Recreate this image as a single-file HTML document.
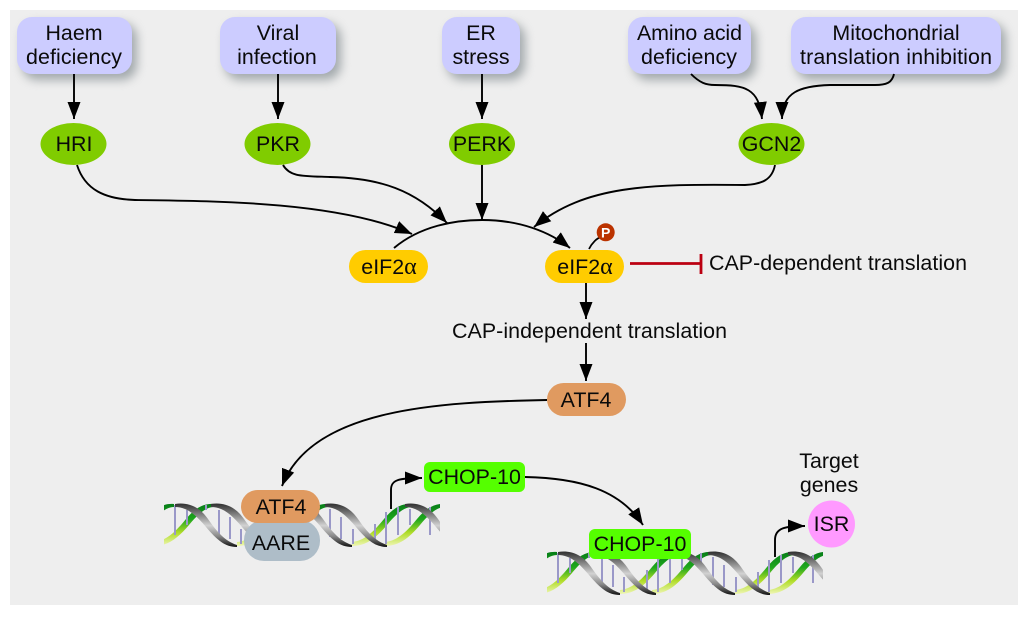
<!DOCTYPE html>
<html><head><meta charset="utf-8"><title>Integrated stress response</title>
<style>html,body{margin:0;padding:0;background:#fff}svg{display:block}text{font-family:"Liberation Sans",sans-serif;font-size:21.4px;fill:#0a0a0a;text-anchor:middle}</style></head>
<body>
<svg width="1024" height="620" viewBox="0 0 1024 620" xmlns="http://www.w3.org/2000/svg">
<defs>
<marker id="a" markerUnits="userSpaceOnUse" markerWidth="19" markerHeight="15" refX="17" refY="7" orient="auto"><path d="M0,0.5L17,7L0,13.5Z" fill="#000"/></marker>
<filter id="s" x="-30%" y="-40%" width="170%" height="190%"><feGaussianBlur stdDeviation="5"/></filter>
<linearGradient id="gr" gradientUnits="userSpaceOnUse" x1="0" y1="552" x2="0" y2="596"><stop offset="0" stop-color="#067d18"/><stop offset=".35" stop-color="#1fa81c"/><stop offset=".65" stop-color="#b0dc28"/><stop offset="1" stop-color="#f8fac8"/></linearGradient>
<linearGradient id="gy" gradientUnits="userSpaceOnUse" x1="0" y1="552" x2="0" y2="595"><stop offset="0" stop-color="#333"/><stop offset=".5" stop-color="#d2d2d2"/><stop offset=".75" stop-color="#888"/><stop offset="1" stop-color="#111"/></linearGradient>
<clipPath id="c"><rect x="547" y="545" width="276" height="55"/></clipPath>
<path id="g" d="M-8,590C5,589 15,578 24,567C33,556 42,551 52,552L52,555C44,555 36,562 27,573C16,586 6,594 -8,594Z" fill="url(#gr)"/>
<path id="y" d="M0,552C12,550 24,554 33,567C42,580 50,589 62,593V595C50,595 42,588 31,575C21,563 12,555 0,555Z" fill="url(#gy)"/>
<g id="dna" clip-path="url(#c)">
<use href="#g" transform="translate(505,0)"/><use href="#g" transform="translate(545,0)"/><use href="#g" transform="translate(628,0)"/><use href="#g" transform="translate(660,0)"/><use href="#g" transform="translate(743,0)"/><use href="#g" transform="translate(776,0)"/>
<path d="M558,553V583M570,558V573M589,553V558M602,558V583M613,565V587M624,577V592M647,570V590M658,558V592M670,558V583M682,558V570M701,553V565M713,557V585M724,565V587M736,577V592M758,572V590M769,560V592M781,555V583M793,557V573M813,555V583" stroke="#9a98c8" stroke-width="2" fill="none"/>
<use href="#y" transform="translate(558,0)"/><use href="#y" transform="translate(594,0)"/><use href="#y" transform="translate(673,0)"/><use href="#y" transform="translate(708,0)"/><use href="#y" transform="translate(788,0)"/>
</g>
</defs>
<rect x="10" y="10" width="1008" height="595" fill="#eeeeee"/>
<g fill="#6f7a80" filter="url(#s)" opacity=".6">
<rect x="22" y="23" width="115" height="57" rx="15"/><rect x="225" y="23" width="116" height="57" rx="15"/><rect x="447" y="23" width="78" height="57" rx="15"/><rect x="633" y="23" width="123" height="57" rx="15"/><rect x="796" y="23" width="210" height="57" rx="15"/>
</g>
<g fill="#ccccff">
<rect x="17" y="17" width="115" height="57" rx="15"/><rect x="220" y="17" width="116" height="57" rx="15"/><rect x="442" y="17" width="78" height="57" rx="15"/><rect x="628" y="17" width="123" height="57" rx="15"/><rect x="791" y="17" width="210" height="57" rx="15"/>
</g>
<use href="#dna" transform="translate(-383,-48)"/>
<use href="#dna"/>
<g fill="none" stroke="#000" stroke-width="1.9">
<path d="M74,74V119" marker-end="url(#a)"/>
<path d="M278,74V119" marker-end="url(#a)"/>
<path d="M482,74V119" marker-end="url(#a)"/>
<path d="M691,74C700,83 706,85 715,85C745,85 759,88 762,119" marker-end="url(#a)"/>
<path d="M894,74C892,83 886,85 875,85L830,85C800,86 782,92 782,119" marker-end="url(#a)"/>
<path d="M77,165C85,190 105,199 135,200C220,201 340,202 412,234" marker-end="url(#a)"/>
<path d="M283,165C290,177 302,176 330,177C380,178 415,190 447,223" marker-end="url(#a)"/>
<path d="M482,165V220" marker-end="url(#a)"/>
<path d="M775,165C772,180 762,184 745,185C650,184 585,185 534,227" marker-end="url(#a)"/>
<path d="M394,248C420,226 455,220 482,220C520,220 550,232 570,248" marker-end="url(#a)"/>
<path d="M586,283V319" marker-end="url(#a)"/>
<path d="M586,343V381" marker-end="url(#a)"/>
<path d="M547,400C440,402 312,408 282,486" marker-end="url(#a)"/>
<path d="M391,509V490C391,480 398,478 422,478" marker-end="url(#a)"/>
<path d="M525,477C580,478 620,490 643,525" marker-end="url(#a)"/>
<path d="M775,557V540C775,528 785,526 805,526" marker-end="url(#a)"/>
</g>
<path d="M589,249C592,243 597,238 601,237" fill="none" stroke="#000" stroke-width="1.7"/>
<path d="M630,263.5H701M701,254V274" fill="none" stroke="#bb0011" stroke-width="2.8"/>
<g fill="#80cc00"><ellipse cx="73.5" cy="144" rx="33" ry="21"/><ellipse cx="277.5" cy="144" rx="33" ry="21"/><ellipse cx="482" cy="144" rx="33" ry="21"/><ellipse cx="771.5" cy="144" rx="33" ry="21"/></g>
<g fill="#ffcc00"><rect x="349" y="250" width="79" height="33" rx="16.5"/><rect x="545" y="250" width="79" height="33" rx="16.5"/></g>
<g fill="#e09a60"><rect x="547" y="383" width="79" height="33" rx="16.5"/></g>
<rect x="244" y="520" width="76" height="41" rx="20" fill="#aebdc8"/>
<rect x="241" y="490" width="79" height="33" rx="16.5" fill="#e09a60"/>
<rect x="424" y="462" width="101" height="30" rx="6" fill="#55ff00"/>
<rect x="589" y="529" width="102" height="30" rx="6" fill="#55ff00"/>
<circle cx="831.5" cy="524" r="23.5" fill="#ff99ff"/>
<circle cx="605.7" cy="232.3" r="9" fill="#bb3300"/>
<text x="74" y="40">Haem</text><text x="74" y="64" textLength="96">deficiency</text>
<text x="278" y="40">Viral</text><text x="277" y="64">infection</text>
<text x="481" y="40">ER</text><text x="481" y="64">stress</text>
<text x="689.5" y="40" textLength="105">Amino acid</text><text x="689" y="64" textLength="96">deficiency</text>
<text x="896" y="40">Mitochondrial</text><text x="896" y="64" textLength="192">translation inhibition</text>
<text x="74" y="151">HRI</text><text x="278" y="151">PKR</text><text x="482" y="151">PERK</text><text x="771.5" y="151">GCN2</text>
<text x="389" y="274">eIF2<tspan style="font-family:'Liberation Serif',serif;font-size:24px">α</tspan></text>
<text x="585" y="274">eIF2<tspan style="font-family:'Liberation Serif',serif;font-size:24px">α</tspan></text>
<text x="605.7" y="237.5" style="font-size:14px;font-weight:bold;fill:#fff">P</text>
<text x="838" y="270" textLength="258">CAP-dependent translation</text>
<text x="589.5" y="338" textLength="275">CAP-independent translation</text>
<text x="586" y="407">ATF4</text>
<text x="281" y="514">ATF4</text>
<text x="281" y="550">AARE</text>
<text x="474.5" y="484">CHOP-10</text>
<text x="640" y="551">CHOP-10</text>
<text x="831.5" y="531">ISR</text>
<text x="829" y="468">Target</text><text x="829" y="492">genes</text>
</svg>
</body></html>
